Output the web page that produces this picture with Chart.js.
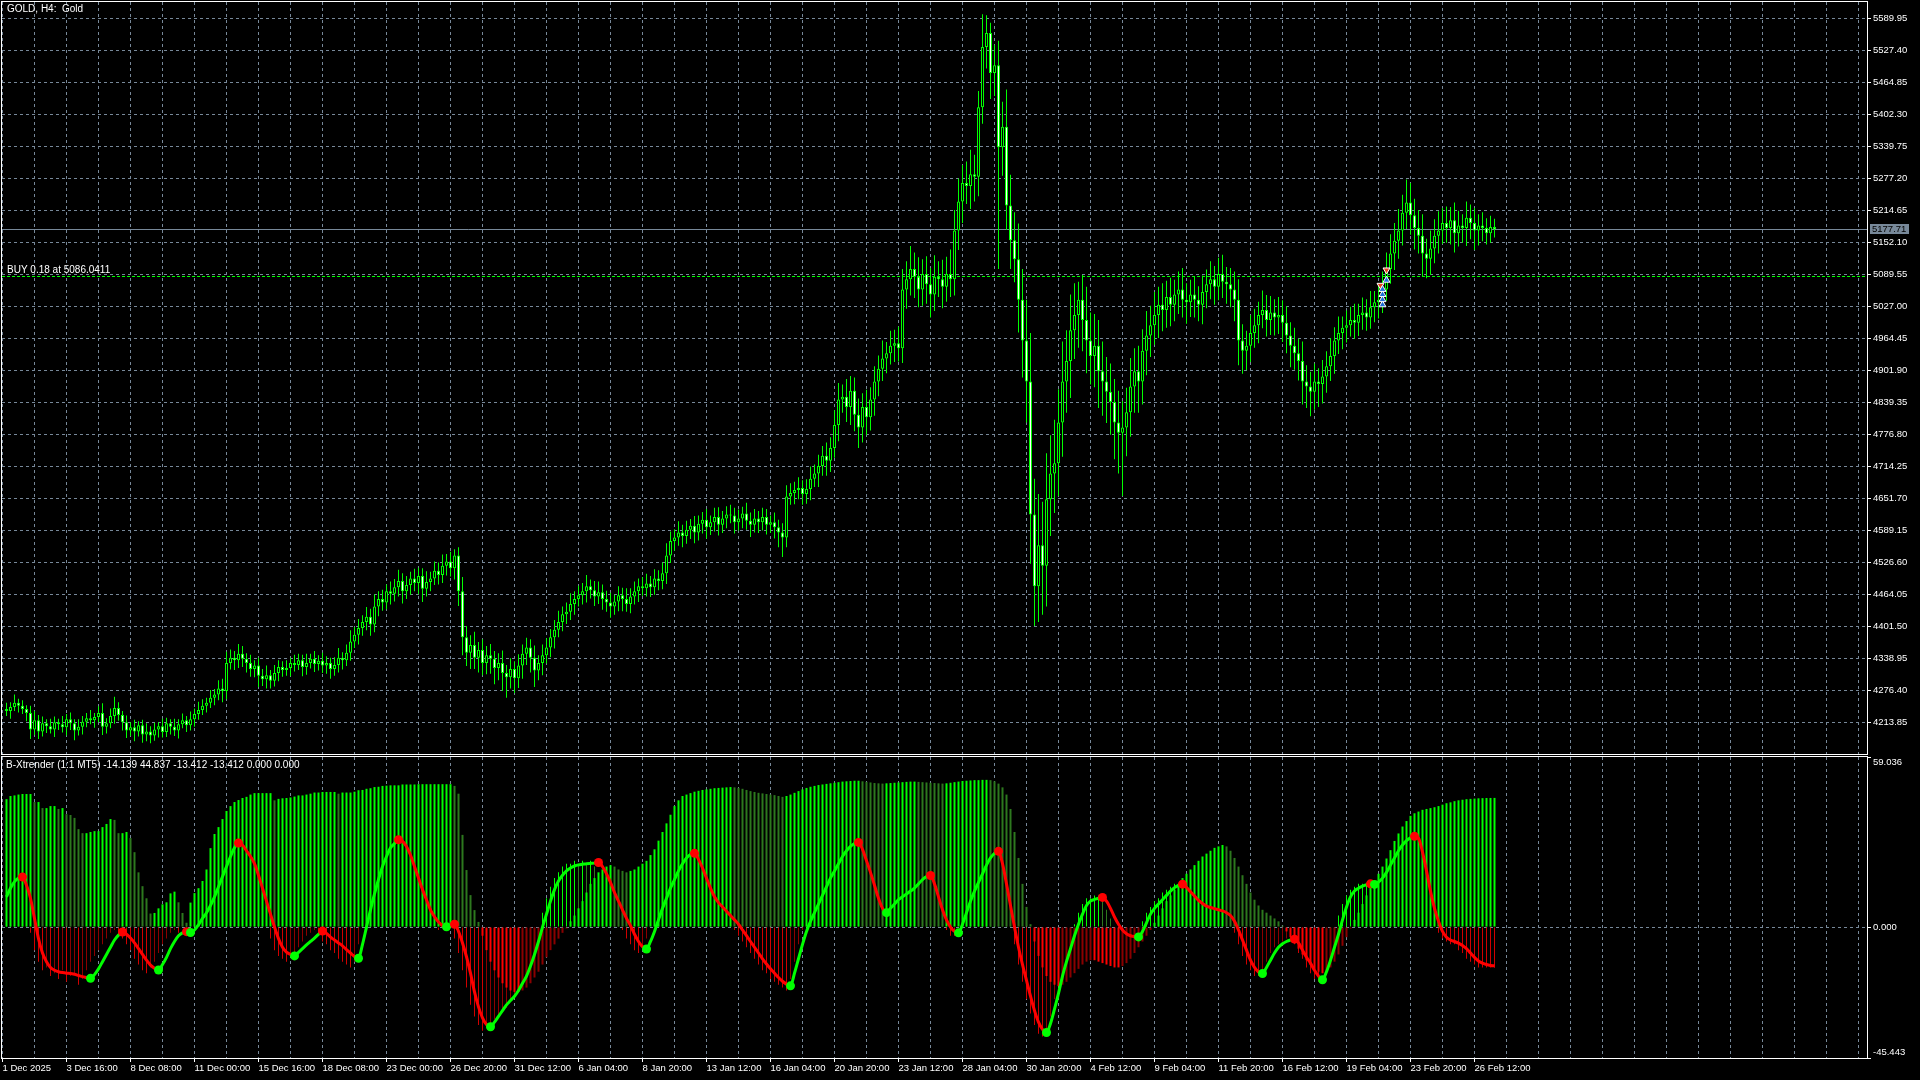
<!DOCTYPE html>
<html>
<head>
<meta charset="utf-8">
<title>GOLD, H4</title>
<script src="https://cdn.jsdelivr.net/npm/chart.js@4.4.1/dist/chart.umd.min.js"></script>
<style>
  html, body { margin: 0; padding: 0; background: #000; }
  #wrap { position: relative; width: 1920px; height: 1080px; overflow: hidden; background: #000; }
  canvas { position: absolute; left: 0; }
  #price { top: 0; }
  #ind { top: 755px; }
</style>
</head>
<body>
<div id="wrap">
  <canvas id="price" width="1920" height="755"></canvas>
  <canvas id="ind" width="1920" height="325"></canvas>
</div>
<script>
// ---- data ----
const timeLabels = ["1 Dec 2025", "3 Dec 16:00", "8 Dec 08:00", "11 Dec 00:00", "15 Dec 16:00", "18 Dec 08:00",
  "23 Dec 00:00", "26 Dec 20:00", "31 Dec 12:00", "6 Jan 04:00", "8 Jan 20:00", "13 Jan 12:00", "16 Jan 04:00",
  "20 Jan 20:00", "23 Jan 12:00", "28 Jan 04:00", "30 Jan 20:00", "4 Feb 12:00", "9 Feb 04:00", "11 Feb 20:00",
  "16 Feb 12:00", "19 Feb 04:00", "23 Feb 20:00", "26 Feb 12:00"];

const priceTicks = [4213.85, 4276.40, 4338.95, 4401.50, 4464.05, 4526.60, 4589.15, 4651.70, 4714.25, 4776.80,
  4839.35, 4901.90, 4964.45, 5027.00, 5089.55, 5152.10, 5214.65, 5277.20, 5339.75, 5402.30, 5464.85, 5527.40, 5589.95];
const indTicks = [-45.443, 0, 59.036];

const firstOpen = 4240;
const close = [
  4236, 4244, 4252, 4246, 4240, 4232, 4200, 4218, 4196, 4212,
  4206, 4200, 4214, 4210, 4204, 4220, 4212, 4198, 4205, 4215,
  4222, 4218, 4224, 4232, 4205, 4212, 4226, 4242, 4228, 4214,
  4198, 4204, 4196, 4208, 4190, 4196, 4188, 4200, 4206, 4195,
  4212, 4205, 4198, 4210, 4218, 4208, 4220, 4230, 4238, 4246,
  4252, 4262, 4268, 4280, 4275, 4330, 4340, 4335, 4348, 4338,
  4330, 4318, 4325, 4305, 4298, 4306, 4295, 4310, 4322, 4316,
  4320, 4330, 4326, 4335, 4322, 4330, 4338, 4328, 4334, 4325,
  4330, 4318, 4326, 4340, 4335, 4350, 4372, 4385, 4398, 4410,
  4420, 4405, 4440, 4455, 4448, 4470, 4465, 4478, 4490, 4470,
  4482, 4495, 4486, 4500, 4475, 4488, 4495, 4510, 4502, 4520,
  4528, 4515, 4540, 4470, 4380, 4350, 4365, 4340, 4355, 4330,
  4345, 4338, 4320, 4330, 4310, 4302, 4318, 4300, 4325, 4348,
  4360, 4340, 4315, 4330, 4345, 4360, 4380, 4395, 4410, 4425,
  4430, 4445, 4455, 4462, 4470, 4480, 4472, 4460, 4468, 4455,
  4448, 4440, 4450, 4462, 4455, 4445, 4460, 4470, 4480, 4476,
  4485, 4478, 4495, 4490, 4505, 4540, 4568, 4575, 4585, 4578,
  4590, 4598, 4585, 4602, 4610, 4595, 4605, 4615, 4600, 4612,
  4620, 4618, 4605, 4612, 4622, 4608, 4600, 4612, 4605, 4615,
  4600, 4605, 4595, 4585, 4575, 4655, 4662, 4668, 4672, 4660,
  4670, 4690, 4700, 4715, 4735, 4725, 4750, 4795, 4845, 4850,
  4830, 4862, 4815, 4790, 4830, 4810, 4845, 4880, 4905, 4925,
  4935, 4950, 4955, 4945, 5060, 5080, 5100, 5085, 5060, 5090,
  5070, 5050, 5085, 5080, 5065, 5090, 5080, 5175, 5232, 5268,
  5262, 5285, 5280, 5416, 5534, 5561, 5483, 5498, 5338, 5378,
  5224, 5156, 5119, 5040, 4960, 4880, 4620, 4480, 4560, 4520,
  4650, 4700, 4720, 4800, 4880, 4920, 4980, 5010, 5040, 5000,
  4960, 4930, 4950, 4900, 4880, 4860, 4840, 4800, 4780, 4790,
  4820, 4870, 4900, 4880, 4940, 4970, 4990, 5010, 5030, 5020,
  5045, 5030, 5050, 5060, 5040, 5035, 5050, 5040, 5030, 5055,
  5070, 5080, 5065, 5090, 5075, 5070, 5060, 5040, 4960, 4940,
  4950, 4975, 4990, 5010, 5020, 5000, 5015, 5005, 5010, 4995,
  4970, 4950, 4935, 4920, 4880, 4870, 4860, 4880, 4875, 4890,
  4910, 4930, 4960, 4975, 4985, 4990, 5000, 4995, 5010, 5015,
  5005, 5025, 5035, 5040, 5060, 5100, 5130, 5155, 5175, 5210,
  5230, 5205, 5180, 5165, 5130, 5120, 5140, 5165, 5175, 5190,
  5180, 5195, 5170, 5185, 5180, 5200, 5190, 5175, 5185, 5180,
  5170, 5182, 5177.71
];
const wickUp = [
  12, 9, 16, 8, 11, 7, 14, 18, 10, 13,
  8, 15, 11, 7, 16, 10, 13, 8, 15, 11,
  10, 16, 8, 13, 19, 10, 15, 22, 11, 8,
  13, 10, 15, 8, 11, 16, 10, 13, 8, 15,
  11, 8, 16, 10, 13, 8, 15, 11, 16, 13,
  10, 15, 11, 16, 19, 22, 16, 13, 19, 15,
  11, 16, 10, 15, 13, 19, 10, 16, 13, 11,
  15, 10, 16, 13, 11, 18, 10, 15, 11, 16,
  13, 10, 15, 19, 11, 16, 22, 15, 18, 13,
  19, 16, 24, 15, 18, 13, 19, 16, 22, 15,
  18, 13, 19, 16, 15, 21, 13, 18, 16, 22,
  15, 19, 12, 16, 28, 22, 19, 26, 16, 21,
  18, 22, 15, 19, 24, 16, 21, 15, 22, 18,
  19, 16, 24, 15, 21, 18, 16, 19, 22, 15,
  18, 21, 15, 19, 16, 22, 13, 18, 21, 15,
  16, 19, 13, 18, 15, 21, 16, 19, 15, 18,
  19, 15, 18, 16, 21, 24, 19, 16, 22, 15,
  18, 13, 19, 16, 15, 21, 13, 18, 19, 15,
  16, 19, 15, 18, 13, 21, 16, 19, 15, 18,
  16, 13, 19, 15, 18, 22, 19, 16, 21, 15,
  19, 24, 18, 22, 19, 26, 21, 29, 32, 24,
  35, 29, 26, 32, 27, 34, 24, 30, 26, 35,
  22, 29, 26, 32, 40, 35, 45, 32, 38, 29,
  35, 32, 42, 30, 38, 34, 48, 40, 45, 35,
  42, 48, 38, 32, 64, 35, 20, 40, 48, 49,
  73, 60, 55, 70, 60, 80, 95, 70, 100, 85,
  90, 75, 85, 65, 78, 60, 70, 62, 35, 48,
  65, 55, 62, 50, 58, 48, 55, 45, 62, 52,
  48, 56, 45, 50, 42, 48, 38, 45, 35, 42,
  32, 38, 29, 35, 42, 32, 29, 35, 26, 32,
  29, 35, 26, 32, 38, 29, 32, 35, 40, 32,
  29, 35, 32, 26, 38, 29, 32, 26, 35, 29,
  32, 26, 35, 29, 38, 32, 29, 35, 26, 32,
  29, 35, 26, 32, 22, 29, 26, 32, 22, 29,
  26, 32, 22, 29, 35, 32, 38, 35, 42, 35,
  45, 38, 32, 35, 42, 29, 35, 32, 38, 29,
  32, 26, 35, 29, 22, 32, 26, 29, 22, 26,
  19, 22, 16
];
const wickDown = [
  10, 15, 8, 13, 10, 16, 19, 11, 15, 10,
  13, 8, 15, 11, 10, 16, 13, 19, 10, 15,
  11, 8, 15, 10, 16, 13, 10, 15, 11, 16,
  15, 11, 19, 10, 16, 13, 15, 10, 16, 11,
  10, 15, 11, 16, 8, 13, 10, 15, 11, 10,
  13, 10, 15, 11, 22, 16, 13, 19, 15, 16,
  19, 15, 16, 22, 13, 18, 15, 11, 16, 13,
  11, 16, 13, 10, 18, 15, 11, 16, 13, 15,
  16, 19, 13, 15, 18, 11, 16, 13, 19, 15,
  16, 22, 15, 19, 16, 13, 21, 15, 18, 24,
  15, 19, 16, 22, 26, 15, 18, 13, 19, 16,
  19, 16, 22, 29, 35, 26, 32, 22, 29, 24,
  22, 29, 32, 24, 35, 40, 22, 29, 19, 26,
  22, 29, 32, 19, 24, 16, 19, 22, 15, 18,
  19, 16, 21, 15, 18, 22, 16, 19, 15, 21,
  18, 22, 16, 19, 24, 15, 18, 16, 21, 15,
  16, 19, 15, 18, 16, 21, 15, 19, 16, 22,
  15, 18, 21, 16, 19, 22, 15, 18, 21, 16,
  19, 15, 22, 16, 19, 18, 24, 15, 21, 16,
  19, 16, 22, 29, 38, 19, 16, 22, 18, 21,
  19, 22, 16, 26, 19, 29, 22, 19, 32, 26,
  29, 35, 32, 40, 29, 35, 26, 32, 29, 24,
  29, 22, 32, 26, 29, 38, 32, 42, 35, 32,
  38, 45, 32, 35, 42, 29, 35, 32, 38, 42,
  35, 45, 48, 38, 32, 42, 51, 45, 238, 56,
  48, 56, 45, 64, 72, 80, 96, 78, 70, 96,
  80, 72, 77, 64, 67, 61, 72, 56, 64, 61,
  64, 56, 61, 72, 67, 61, 64, 72, 80, 124,
  56, 48, 51, 61, 45, 48, 42, 38, 45, 42,
  35, 42, 32, 38, 35, 42, 29, 35, 32, 38,
  32, 29, 35, 26, 32, 38, 35, 42, 48, 45,
  38, 32, 29, 35, 26, 32, 29, 35, 32, 38,
  35, 42, 32, 38, 45, 42, 48, 35, 45, 38,
  32, 29, 35, 26, 32, 29, 22, 32, 26, 29,
  26, 22, 29, 32, 26, 22, 29, 32, 35, 29,
  32, 38, 42, 35, 45, 38, 32, 29, 35, 26,
  29, 32, 38, 26, 29, 35, 32, 38, 29, 26,
  22, 19, 16
];

// B-Xtrender: long-term histogram, short-term histogram, signal line
const xtLong = [
  44.4, 45.5, 45.7, 46.0, 46.2, 46.2, 46.2, 43.4, 43.4, 41.3,
  41.3, 42.0, 42.0, 41.0, 41.3, 39.2, 38.9, 37.9, 34.0, 32.6,
  32.6, 33.0, 33.3, 33.3, 34.7, 35.8, 37.5, 37.2, 32.6, 32.6,
  33.0, 30.9, 26.0, 19.0, 14.2, 10.0, 4.7, 4.9, 6.5, 7.9,
  8.6, 11.7, 12.3, 8.6, 4.9, 1.5, 8.5, 11.8, 13.5, 16.0,
  20.0, 27.4, 32.3, 34.7, 37.5, 40.3, 42.0, 43.4, 44.1, 44.8,
  45.2, 46.0, 46.5, 46.5, 46.5, 46.5, 46.5, 44.0, 44.5, 44.7,
  44.8, 45.0, 45.3, 45.7, 45.7, 46.0, 46.3, 46.7, 46.7, 46.9,
  46.9, 46.9, 46.9, 46.3, 46.7, 46.7, 46.7, 47.0, 47.5, 47.6,
  48.0, 48.2, 48.6, 48.7, 49.0, 49.1, 49.2, 49.2, 49.2, 49.5,
  49.5, 49.5, 49.5, 49.6, 49.6, 49.6, 49.6, 49.6, 49.6, 49.6,
  49.6, 49.6, 49.0, 46.3, 32.0, 19.8, 11.1, 5.9, 1.8, -3.0,
  -8.0, -12.0, -15.0, -17.5, -19.5, -21.0, -22.0, -22.5, -22.5, -22.0,
  -21.0, -19.5, -17.5, -15.5, -13.0, -10.5, -8.0, -6.0, -4.0, -2.0,
  -0.5, 2.0, 4.0, 6.5, 9.0, 12.0, 15.0, 17.0, 19.0, 20.0,
  21.0, 21.5, 21.0, 20.0, 19.5, 19.0, 19.5, 20.0, 21.0, 22.0,
  23.0, 25.0, 27.0, 30.0, 33.0, 36.0, 39.0, 42.0, 44.0, 45.5,
  46.0, 46.5, 47.0, 47.3, 47.6, 47.8, 48.0, 48.2, 48.3, 48.4,
  48.5, 48.6, 48.5, 48.3, 48.0, 47.6, 47.2, 46.9, 46.6, 46.4,
  46.2, 46.0, 45.8, 45.5, 45.2, 45.5, 46.0, 46.6, 47.2, 47.8,
  48.3, 48.7, 49.0, 49.3, 49.5, 49.7, 49.9, 50.1, 50.3, 50.5,
  50.6, 50.7, 50.8, 50.8, 50.6, 50.4, 50.2, 50.0, 49.9, 49.8,
  49.9, 50.0, 50.1, 50.2, 50.3, 50.4, 50.5, 50.5, 50.4, 50.3,
  50.2, 50.1, 50.0, 49.9, 49.8, 49.9, 50.1, 50.3, 50.5, 50.7,
  50.8, 50.9, 51.0, 51.0, 51.1, 51.1, 51.0, 50.6, 49.8, 48.5,
  46.0, 41.0, 33.0, 24.0, 15.0, 7.0, 1.0, -5.0, -10.0, -14.0,
  -17.0, -19.0, -20.0, -20.5, -20.0, -19.0, -17.5, -16.0, -14.5, -13.0,
  -12.0, -11.5, -11.5, -12.0, -12.5, -13.0, -13.5, -14.0, -14.0, -13.5,
  -12.5, -11.0, -9.0, -7.0, -5.0, -3.0, -1.0, 1.5, 4.0, 6.5,
  9.0, 11.0, 13.0, 15.0, 17.0, 18.5, 20.0, 21.5, 23.0, 24.5,
  25.5, 26.5, 27.5, 28.0, 28.5, 28.0, 26.5, 24.0, 21.0, 18.0,
  15.0, 12.0, 9.5, 7.5, 6.0, 5.0, 4.0, 3.0, 2.0, 0.5,
  -1.5, -3.5, -5.5, -7.5, -9.5, -11.5, -13.0, -14.5, -15.5, -16.0,
  -15.5, -14.0, -12.0, -9.5, -6.5, -3.5, -0.5, 2.5, 5.0, 8.0,
  11.0, 14.0, 16.0, 18.5, 21.0, 23.8, 26.7, 29.9, 32.5, 34.9,
  36.8, 38.6, 39.5, 40.1, 40.7, 41.0, 41.3, 41.6, 42.0, 42.5,
  43.0, 43.3, 43.7, 44.0, 44.2, 44.4, 44.5, 44.6, 44.7, 44.75,
  44.8, 44.82, 44.837
];
const xtShort = [
  15, 17, 18, 16, 12, 6, -2, -8, -12, -15,
  -14, -17, -16, -18, -15, -19, -17, -16, -20, -18,
  -15, -12, -10, -8, -6, -4, -2, -1, -3, -4,
  -6, -8, -11, -13, -15, -16, -14, -12, -9, -6,
  -4, -2, -1, -2, 0, 1, 3, 5, 7, 10,
  13, 16, 20, 23, 26, 28, 30, 29, 27, 25,
  22, 18, 14, 9, 5, 0, -4, -8, -10, -11,
  -12, -10, -9, -7, -5, -3, -2, -1, -3, -5,
  -6, -8, -9, -11, -12, -13, -14, -12, -6, 2,
  8, 14, 19, 23, 26, 29, 31, 31, 29, 27,
  23, 19, 15, 11, 7, 4, 2, 0, -1, 1,
  2, 0, -4, -9, -15, -21, -27, -31, -34, -36,
  -35, -34, -32, -31, -29, -28, -26, -24, -21, -18,
  -14, -10, -5, 0, 5, 10, 14, 17, 19, 21,
  22, 22, 23, 22, 23, 22, 23, 21, 18, 15,
  12, 8, 5, 2, -1, -4, -6, -8, -9, -7,
  -4, 0, 4, 8, 12, 15, 18, 21, 23, 25,
  26, 25, 22, 19, 15, 12, 9, 7, 6, 4,
  3, 1, -1, -3, -5, -7, -9, -11, -13, -15,
  -16, -18, -19, -20, -21, -22, -18, -12, -6, -1,
  3, 6, 9, 12, 15, 18, 20, 23, 25, 27,
  29, 30, 30, 28, 24, 20, 15, 10, 6, 4,
  6, 8, 9, 11, 12, 13, 14, 16, 17, 18,
  18, 15, 10, 6, 2, -1, -3, -3, 0, 4,
  8, 12, 15, 18, 21, 24, 26, 27, 25, 18,
  10, 2, -6, -13, -19, -25, -30, -34, -37, -38,
  -36, -31, -25, -19, -13, -8, -3, 1, 5, 8,
  10, 10, 11, 11, 9, 6, 3, 0, -2, -3,
  -4, -4, -3, -1, 2, 5, 7, 9, 10, 12,
  13, 14, 15, 15, 14, 12, 11, 9, 8, 7,
  7, 6, 6, 5, 5, 3, 1, -2, -6, -10,
  -13, -15, -17, -17, -15, -12, -9, -7, -6, -5,
  -4, -4, -6, -9, -11, -14, -16, -18, -19, -16,
  -11, -6, -1, 4, 8, 11, 13, 14, 15, 15,
  15, 15, 16, 18, 20, 23, 26, 28, 30, 31,
  32, 32, 30, 25, 18, 11, 5, 1, -2, -4,
  -5, -6, -6, -8, -9, -11, -12, -13, -14, -14,
  -14, -14, -14.139
];
const signal = [
  10.5, 13.5, 15.8, 17.0, 17.4, 14.5, 10.0, 3.0, -4.0, -9.0,
  -12.0, -14.0, -15.0, -15.5, -15.8, -16.0, -16.1, -16.4, -16.8, -17.2,
  -17.5, -17.8, -16.5, -14.5, -12.0, -9.5, -7.0, -4.5, -2.8, -1.7,
  -2.5, -3.8, -5.5, -7.5, -9.5, -11.5, -13.2, -14.3, -14.9, -13.0,
  -10.5, -7.5, -5.0, -3.0, -2.0, -1.6, -1.9, -1.0, 0.8, 3.0,
  5.0, 7.5, 10.5, 14.0, 17.5, 21.0, 24.5, 27.5, 29.2, 28.5,
  26.5, 24.5, 22.0, 18.0, 13.5, 9.0, 4.5, 0.0, -4.0, -7.0,
  -8.7, -9.5, -10.0, -8.8, -7.5, -6.2, -5.0, -3.8, -2.5, -1.4,
  -2.2, -3.5, -4.5, -5.5, -6.5, -7.8, -9.0, -10.2, -10.8, -6.0,
  0.0, 6.0, 11.5, 16.5, 21.0, 24.5, 27.5, 29.0, 30.3, 29.8,
  28.0, 25.0, 21.0, 17.0, 13.0, 9.5, 6.0, 3.6, 1.8, 0.5,
  0.1, 0.6, 1.0, -1.5, -5.5, -10.3, -16.0, -22.5, -27.7, -31.5,
  -33.8, -34.6, -33.0, -31.0, -29.0, -27.0, -25.5, -24.0, -22.0, -19.5,
  -17.0, -13.5, -9.5, -5.0, 0.0, 4.5, 9.0, 13.0, 16.0, 18.0,
  19.5, 20.5, 21.2, 21.6, 21.8, 22.0, 22.1, 22.2, 22.4, 21.0,
  18.5, 15.5, 12.0, 9.0, 6.0, 3.0, 0.5, -2.5, -5.0, -6.8,
  -7.6, -5.0, -1.5, 2.5, 6.5, 10.0, 13.5, 16.5, 19.5, 22.0,
  24.0, 25.2, 25.6, 23.5, 20.5, 17.0, 13.5, 10.5, 8.5, 7.0,
  5.5, 4.0, 2.5, 1.0, -1.0, -3.0, -5.0, -7.0, -9.0, -11.0,
  -12.8, -14.5, -16.0, -17.5, -18.8, -19.8, -20.4, -16.0, -11.0, -6.0,
  -1.5, 2.0, 5.0, 8.0, 11.0, 14.0, 17.0, 19.5, 22.0, 24.5,
  26.5, 28.0, 29.0, 29.4, 27.0, 23.0, 19.0, 14.5, 10.0, 6.5,
  5.0, 6.5, 8.0, 9.5, 10.5, 11.5, 12.5, 13.5, 15.0, 16.5,
  17.5, 17.9, 15.0, 10.5, 6.0, 2.5, 0.0, -1.5, -2.0, 1.0,
  5.0, 9.0, 12.5, 15.5, 18.5, 21.5, 24.0, 25.6, 26.3, 22.0,
  15.0, 7.5, 0.0, -7.0, -13.0, -18.5, -24.0, -29.0, -33.0, -35.5,
  -36.6, -33.5, -28.5, -23.0, -17.0, -12.0, -7.5, -3.0, 1.0, 4.5,
  7.5, 9.0, 9.6, 10.0, 10.3, 9.0, 6.5, 3.5, 1.0, -1.0,
  -2.3, -3.0, -3.3, -3.4, -1.5, 1.5, 4.5, 6.5, 8.0, 9.5,
  11.0, 12.5, 13.7, 14.5, 14.9, 13.8, 12.3, 10.8, 9.3, 8.2,
  7.3, 6.8, 6.4, 6.0, 5.6, 5.0, 4.0, 2.0, -1.0, -4.5,
  -8.0, -11.5, -14.0, -15.6, -16.1, -14.0, -11.5, -9.0, -7.0, -5.8,
  -5.0, -4.5, -4.2, -5.5, -8.0, -10.5, -12.5, -15.0, -17.0, -18.3,
  -15.5, -11.5, -7.0, -2.5, 2.5, 7.0, 10.5, 12.5, 13.5, 14.2,
  14.7, 15.0, 14.8, 15.6, 17.0, 19.0, 21.5, 24.0, 26.5, 28.5,
  30.0, 31.0, 31.5, 30.9, 26.0, 19.5, 12.5, 6.5, 2.0, -1.5,
  -3.5, -4.5, -5.0, -5.6, -6.4, -7.5, -9.0, -10.5, -11.8, -12.5,
  -13.0, -13.3, -13.412
];

// trade markers (bar index, price)
const buyBars = [344, 344, 344, 344, 345];
const buyPrices = [5030, 5040, 5050, 5060, 5078];
const sellBars = [343.5, 345];
const sellPrices = [5068, 5098];

const bidPrice = 5177.71;
const buyPrice = 5086.0411;

// ---- style ----
Chart.defaults.font.family = "'Liberation Sans', Arial, sans-serif";
Chart.defaults.font.size = 9.5;
Chart.defaults.color = "#fff";

const GRID = "#778899";
const LIME = "#00ff00";
const DARK_GREEN = "#2d781e";
const RED = "#ff0000";
const DARK_RED = "#8b0000";
const X_MIN = -1.125, X_MAX = 465.125;   // 4 px per bar

const gridTicks = [];
for (let v = -1; v <= X_MAX; v += 8) gridTicks.push(v);

const open = close.map((c, i) => i ? close[i - 1] : firstOpen);

function noPad(s) {
  s.paddingTop = 0; s.paddingBottom = 0; s.paddingLeft = 0; s.paddingRight = 0;
}

function xAxis(showLabels) {
  return {
    type: "linear", min: X_MIN, max: X_MAX, offset: false,
    afterBuildTicks: s => { s.ticks = gridTicks.map(v => ({ value: v })); },
    afterFit: s => { s.height = showLabels ? 22 : 0; noPad(s); },
    ticks: {
      display: showLabels, align: "start", autoSkip: false, maxRotation: 0, padding: 1, color: "#fff",
      callback: (v, i) => i % 2 === 0 ? (timeLabels[i / 2] || "") : ""
    },
    grid: {
      color: GRID, offset: false, drawTicks: showLabels, tickLength: 4, tickBorderDash: [],
      tickColor: c => (c.index % 2 === 0 && c.index / 2 < timeLabels.length) ? "#fff" : "rgba(0,0,0,0)"
    },
    border: { display: false, dash: [3, 3] }
  };
}

const framePlugin = {
  id: "frame",
  afterDraw(chart) {
    const { ctx, chartArea: a } = chart;
    ctx.save();
    ctx.strokeStyle = "#fff";
    ctx.lineWidth = 1;
    ctx.strokeRect(a.left - 0.5, a.top - 0.5, a.right - a.left + 1, a.bottom - a.top + 1);
    ctx.restore();
  }
};

// ---- price chart ----
const pricePlugin = {
  id: "priceLines",
  beforeDatasetsDraw(chart) {
    const { ctx, chartArea: a, scales: { y } } = chart;
    const by = Math.round(y.getPixelForValue(bidPrice)) + 0.5;
    const gy = Math.round(y.getPixelForValue(buyPrice)) + 0.5;
    ctx.save();
    ctx.lineWidth = 1;
    ctx.strokeStyle = GRID;
    ctx.beginPath(); ctx.moveTo(a.left, by); ctx.lineTo(a.right, by); ctx.stroke();
    ctx.strokeStyle = LIME;
    ctx.setLineDash([3, 2]);
    ctx.beginPath(); ctx.moveTo(a.left, gy); ctx.lineTo(a.right, gy); ctx.stroke();
    ctx.restore();
  },
  afterDraw(chart) {
    const { ctx, chartArea: a, scales: { y } } = chart;
    const by = Math.round(y.getPixelForValue(bidPrice));
    const gy = y.getPixelForValue(buyPrice);
    ctx.save();
    ctx.font = "10px 'Liberation Sans', Arial, sans-serif";
    ctx.fillStyle = "#fff";
    ctx.textBaseline = "middle";
    ctx.fillText("GOLD, H4:  Gold", 7, 9);
    ctx.textBaseline = "bottom";
    ctx.fillText("BUY 0.18 at 5086.0411", 7, gy - 1);
    ctx.fillStyle = "#778899";
    ctx.fillRect(a.right + 3, by - 5, 39, 10);
    ctx.fillStyle = "#000";
    ctx.font = "9.5px 'Liberation Sans', Arial, sans-serif";
    ctx.textBaseline = "middle";
    ctx.fillText(bidPrice.toFixed(2), a.right + 5, by + 0.5);
    ctx.restore();
  }
};

new Chart(document.getElementById("price").getContext("2d"), {
  type: "bar",
  data: {
    datasets: [
      {
        type: "scatter", order: 0,
        data: buyBars.map((b, i) => ({ x: b, y: buyPrices[i] })),
        pointStyle: "triangle", pointRadius: 4, backgroundColor: "#1e6fd9", borderColor: "#fff", borderWidth: 1
      },
      {
        type: "scatter", order: 0,
        data: sellBars.map((b, i) => ({ x: b, y: sellPrices[i] })),
        pointStyle: "triangle", rotation: 180, pointRadius: 4, backgroundColor: "#e8401c", borderColor: "#fff", borderWidth: 1
      },
      {
        order: 1, grouped: false, barThickness: 3, minBarLength: 1, inflateAmount: 0,
        data: close.map((c, i) => ({ x: i, y: [open[i], c] })),
        backgroundColor: close.map((c, i) => c >= open[i] ? "#000" : "#fff"),
        borderColor: LIME, borderWidth: 1, borderSkipped: false
      },
      {
        order: 2, grouped: false, barThickness: 1, inflateAmount: 0,
        data: close.map((c, i) => ({ x: i, y: [Math.min(open[i], c) - wickDown[i], Math.max(open[i], c) + wickUp[i]] })),
        backgroundColor: LIME
      }
    ]
  },
  options: {
    responsive: false, animation: false,
    layout: { autoPadding: false, padding: { left: 2, top: 2, right: 0, bottom: 1 } },
    plugins: { legend: { display: false }, tooltip: { enabled: false } },
    scales: {
      x: xAxis(false),
      y: {
        position: "right", min: 4151.9, max: 5621.8,
        afterBuildTicks: s => { s.ticks = priceTicks.map(v => ({ value: v })); },
        afterFit: s => { s.width = 53; noPad(s); },
        ticks: { color: "#fff", padding: 2, autoSkip: false, callback: v => v.toFixed(2) },
        grid: { color: GRID, tickColor: "#fff", tickLength: 4, tickBorderDash: [] },
        border: { display: false, dash: [3, 3] }
      }
    }
  },
  plugins: [pricePlugin, framePlugin]
});

// ---- indicator chart ----
function histColor(arr, fallNeg) {
  return c => {
    const i = c.dataIndex, v = arr[i], p = i ? arr[i - 1] : v;
    if (v >= 0) return v >= p ? LIME : DARK_GREEN;
    return v <= p ? fallNeg : DARK_RED;
  };
}
const turn = signal.map((v, i) => {
  if (i === 0 || i === signal.length - 1) return 0;
  if (v > signal[i - 1] && v > signal[i + 1]) return 1;
  if (v < signal[i - 1] && v < signal[i + 1]) return -1;
  return 0;
});

const indPlugin = {
  id: "indText",
  afterDraw(chart) {
    const { ctx, chartArea: a, scales: { y } } = chart;
    ctx.save();
    ctx.fillStyle = "#fff";
    ctx.font = "10px 'Liberation Sans', Arial, sans-serif";
    ctx.textBaseline = "middle";
    ctx.fillText("B-Xtrender (1:1 MT5) -14.139 44.837 -13.412 -13.412 0.000 0.000", 6, 10);
    ctx.font = "9.5px 'Liberation Sans', Arial, sans-serif";
    ctx.textBaseline = "top";
    ctx.fillText(indTicks[2].toFixed(3), a.right + 6, y.getPixelForValue(indTicks[2]) + 1);
    ctx.textBaseline = "middle";
    ctx.fillText(indTicks[1].toFixed(3), a.right + 6, y.getPixelForValue(indTicks[1]) + 0.5);
    ctx.textBaseline = "bottom";
    ctx.fillText(indTicks[0].toFixed(3), a.right + 6, y.getPixelForValue(indTicks[0]) - 1);
    ctx.restore();
  }
};

new Chart(document.getElementById("ind").getContext("2d"), {
  type: "bar",
  data: {
    datasets: [
      {
        type: "line", order: 0,
        data: signal.map((v, i) => ({ x: i, y: v })),
        borderWidth: 3, cubicInterpolationMode: "monotone",
        segment: { borderColor: c => c.p1.parsed.y < c.p0.parsed.y ? RED : LIME },
        pointRadius: c => turn[c.dataIndex] ? 4.5 : 0,
        pointBackgroundColor: c => turn[c.dataIndex] > 0 ? RED : LIME,
        pointBorderWidth: 0
      },
      {
        order: 1, grouped: false, barThickness: 2, inflateAmount: 0,
        data: xtLong.map((v, i) => ({ x: i, y: v })),
        backgroundColor: histColor(xtLong, RED)
      },
      {
        order: 2, grouped: false, barThickness: 1, inflateAmount: 0,
        data: xtShort.map((v, i) => ({ x: i, y: v })),
        backgroundColor: histColor(xtShort, "#d00000")
      }
    ]
  },
  options: {
    responsive: false, animation: false,
    layout: { autoPadding: false, padding: { left: 2, top: 2, right: 0, bottom: 0 } },
    plugins: { legend: { display: false }, tooltip: { enabled: false } },
    scales: {
      x: xAxis(true),
      y: {
        position: "right", min: indTicks[0], max: indTicks[2],
        afterBuildTicks: s => { s.ticks = indTicks.map(v => ({ value: v })); },
        afterFit: s => { s.width = 53; noPad(s); },
        ticks: { display: false },
        grid: {
          color: c => (c.tick && c.tick.value === 0) ? GRID : "rgba(0,0,0,0)",
          tickColor: "#fff", tickLength: 4, tickBorderDash: []
        },
        border: { display: false, dash: [3, 3] }
      }
    }
  },
  plugins: [indPlugin, framePlugin]
});
</script>
</body>
</html>
